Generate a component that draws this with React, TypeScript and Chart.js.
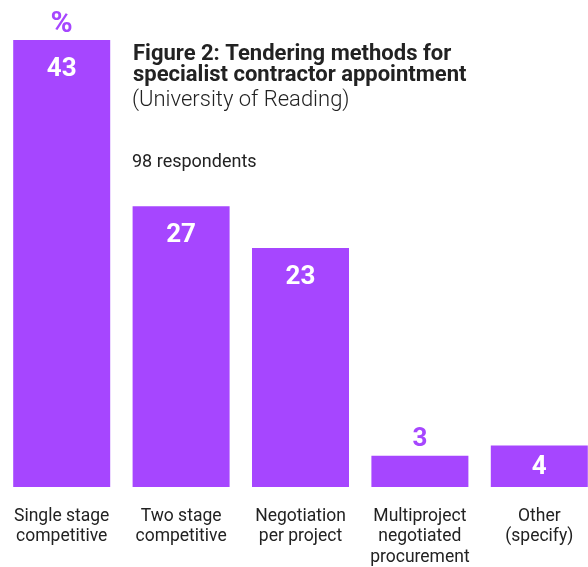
import React, { useEffect, useRef } from "react";
import { Chart, registerables } from "chart.js";

Chart.register(...registerables);

const categories: string[][] = [
  ["Single stage", "competitive"],
  ["Two stage", "competitive"],
  ["Negotiation", "per project"],
  ["Multiproject", "negotiated", "procurement"],
  ["Other", "(specify)"],
];
const values: number[] = [43, 27, 23, 3, 4];
const titleLines: string[] = ["Figure 2: Tendering methods for", "specialist contractor appointment"];
const subtitle = "(University of Reading)";
const note = "98 respondents";
const unitLabel = "%";

const PURPLE = "#a646ff";
const TEXT = "#222222";
const FONT = "Roboto, 'Open Sans', sans-serif";

const labelPlugin = {
  id: "labels",
  afterDatasetsDraw(chart: any) {
    const ctx = chart.ctx;
    const meta = chart.getDatasetMeta(0);
    ctx.save();
    ctx.textAlign = "center";
    ctx.textBaseline = "alphabetic";
    meta.data.forEach((bar: any, i: number) => {
      const v = values[i];
      const h = bar.base - bar.y;
      ctx.font = `bold 26px ${FONT}`;
      if (h < 36) {
        if (v < 4) {
          ctx.fillStyle = PURPLE;
          ctx.fillText(String(v), bar.x, bar.y - 10);
        } else {
          ctx.fillStyle = "#ffffff";
          ctx.fillText(String(v), bar.x, (bar.y + bar.base) / 2 + 8);
        }
      } else if (h < 50) {
        ctx.fillStyle = "#ffffff";
        ctx.fillText(String(v), bar.x, (bar.y + bar.base) / 2 + 8);
      } else {
        ctx.fillStyle = "#ffffff";
        ctx.fillText(String(v), bar.x, bar.y + 36);
      }
      if (i === 0) {
        ctx.font = `bold 30px ${FONT}`;
        ctx.fillStyle = PURPLE;
        ctx.fillText(unitLabel, bar.x, bar.y - 8);
      }
    });
    ctx.textAlign = "left";
    ctx.fillStyle = TEXT;
    ctx.font = `bold 22px ${FONT}`;
    ctx.fillText(titleLines[0], 133, 60);
    ctx.fillText(titleLines[1], 133, 81);
    ctx.font = `300 22px ${FONT}`;
    ctx.fillText(subtitle, 132, 106);
    ctx.font = `18px ${FONT}`;
    ctx.fillText(note, 132, 166.5);
    ctx.restore();
  },
};

export default function App() {
  const ref = useRef<HTMLCanvasElement | null>(null);
  useEffect(() => {
    if (!ref.current) return;
    const chart = new Chart(ref.current, {
      type: "bar",
      data: {
        labels: categories,
        datasets: [
          {
            data: values,
            backgroundColor: PURPLE,
            borderWidth: 0,
            barPercentage: 0.8124,
            categoryPercentage: 1,
          },
        ],
      },
      options: {
        responsive: false,
        animation: false,
        layout: { padding: { left: 2, right: 1, top: 0, bottom: 0 } },
        plugins: { legend: { display: false }, tooltip: { enabled: false }, title: { display: false } },
        scales: {
          x: {
            grid: { display: false, drawTicks: false },
            border: { display: false },
            ticks: {
              color: TEXT,
              font: { family: FONT, size: 17.5, lineHeight: 1.17 },
              padding: 19,
              maxRotation: 0,
              autoSkip: false,
            },
            afterFit: (scale: any) => {
              scale.height = 80;
              scale.paddingLeft = 0;
              scale.paddingRight = 0;
            },
          },
          y: {
            display: false,
            min: 0,
            max: 46.85,
          },
        },
      },
      plugins: [labelPlugin],
    });
    return () => chart.destroy();
  }, []);
  return (
    <div style={{ position: "fixed", left: 0, top: 0, width: 588, height: 567, overflow: "hidden", background: "#fff" }}>
      <canvas ref={ref} width={600} height={567} style={{ width: 600, height: 567, display: "block" }} />
    </div>
  );
}
